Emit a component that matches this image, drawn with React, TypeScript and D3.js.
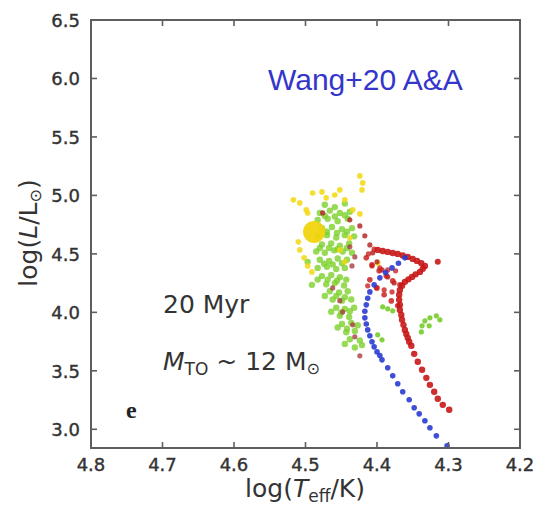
import React from "react";
import * as d3 from "d3";

// Hertzsprung–Russell diagram of a 20 Myr cluster: log Teff vs log L/Lsun.
type Pt = [number, number]; // [logTeff, logL]

const xTicks = [4.8, 4.7, 4.6, 4.5, 4.4, 4.3, 4.2];
const yTicks = [3.0, 3.5, 4.0, 4.5, 5.0, 5.5, 6.0, 6.5];

// Blue sequence (blue-loop models)
const blueTrack: Pt[] = [
  [4.361, 4.466], [4.370, 4.42], [4.379, 4.38], [4.388, 4.34], [4.396, 4.295],
  [4.404, 4.235], [4.41, 4.175], [4.413, 4.12], [4.415, 4.064], [4.417, 4.01],
  [4.417, 3.953], [4.415, 3.90], [4.413, 3.85], [4.410, 3.80], [4.407, 3.748],
  [4.404, 3.705], [4.400, 3.662], [4.396, 3.63], [4.393, 3.594], [4.385, 3.526],
  [4.378, 3.457], [4.371, 3.389], [4.364, 3.321], [4.355, 3.252], [4.348, 3.184],
  [4.341, 3.132], [4.333, 3.073], [4.326, 3.013], [4.317, 2.944], [4.302, 2.859],
];

// Red sequence: main ridge
const redMain: Pt[] = [
  [4.399, 4.534], [4.392, 4.525], [4.385, 4.517], [4.378, 4.508], [4.371, 4.50],
  [4.364, 4.487], [4.357, 4.474], [4.350, 4.457], [4.344, 4.44], [4.338, 4.42],
  [4.333, 4.397], [4.336, 4.372], [4.340, 4.346], [4.346, 4.325], [4.351, 4.303],
  [4.356, 4.282], [4.361, 4.261], [4.365, 4.227], [4.368, 4.192], [4.369, 4.15],
  [4.369, 4.107], [4.368, 4.064], [4.368, 4.021], [4.366, 3.978], [4.365, 3.936],
  [4.363, 3.893], [4.361, 3.85], [4.359, 3.815], [4.357, 3.782], [4.355, 3.748],
  [4.352, 3.714], [4.348, 3.645], [4.343, 3.577], [4.337, 3.509], [4.331, 3.44],
  [4.326, 3.38], [4.320, 3.321], [4.315, 3.261], [4.308, 3.209], [4.299, 3.167],
];

// Red sequence: sparse upper branch
const redUpper: Pt[] = [
  [4.476, 4.85], [4.438, 4.791], [4.424, 4.739], [4.417, 4.654], [4.410, 4.577],
  [4.406, 4.509], [4.400, 4.432], [4.393, 4.363], [4.385, 4.303], [4.376, 4.252],
];

// Red sequence: intermediate bands between the branches
const redBandA: Pt[] = [
  [4.415, 4.466], [4.407, 4.406], [4.397, 4.355], [4.387, 4.312], [4.378, 4.269], [4.368, 4.235],
];
const redBandB: Pt[] = [
  [4.410, 4.278], [4.400, 4.209], [4.390, 4.15], [4.380, 4.098], [4.371, 4.056],
];
const redRungs: Pt[] = [
  [4.407, 4.397], [4.396, 4.38], [4.385, 4.363], [4.374, 4.355],
  [4.413, 4.227], [4.401, 4.21], [4.390, 4.192], [4.379, 4.175],
  [4.412, 4.50], [4.404, 4.54],
];
const redIsolated: Pt[] = [[4.315, 4.432]];

// Dark red stars scattered within the green group
const redSpecks: Pt[] = [
  [4.462, 4.209], [4.448, 4.004], [4.434, 3.893], [4.431, 3.791], [4.424, 3.628],
  [4.438, 4.56], [4.431, 4.474], [4.435, 4.397], [4.452, 4.10],
];

// Green group
const greenCluster: Pt[] = [
  [4.473, 4.92], [4.459, 4.90], [4.445, 4.93],
  [4.480, 4.85], [4.466, 4.87], [4.452, 4.85], [4.438, 4.86],
  [4.473, 4.825], [4.459, 4.82], [4.445, 4.83],
  [4.483, 4.79], [4.469, 4.80], [4.455, 4.78], [4.441, 4.80],
  [4.477, 4.72], [4.463, 4.73], [4.449, 4.71], [4.435, 4.72],
  [4.470, 4.69], [4.456, 4.68], [4.442, 4.69],
  [4.483, 4.65], [4.470, 4.66], [4.457, 4.64], [4.445, 4.66], [4.432, 4.65],
  [4.477, 4.58], [4.464, 4.59], [4.452, 4.57], [4.439, 4.59],
  [4.480, 4.55], [4.467, 4.55], [4.455, 4.54], [4.442, 4.55],
  [4.485, 4.52], [4.473, 4.51], [4.460, 4.53], [4.448, 4.52], [4.435, 4.51],
  [4.480, 4.45], [4.467, 4.44], [4.455, 4.46], [4.442, 4.45],
  [4.474, 4.415], [4.462, 4.41], [4.449, 4.42], [4.497, 4.432],
  [4.483, 4.38], [4.470, 4.39], [4.457, 4.37], [4.445, 4.38],
  [4.477, 4.31], [4.464, 4.32], [4.452, 4.30],
  [4.483, 4.28], [4.469, 4.28], [4.456, 4.27], [4.443, 4.28],
  [4.471, 4.24], [4.459, 4.25], [4.446, 4.23], [4.491, 4.235],
  [4.466, 4.18], [4.453, 4.17], [4.441, 4.18],
  [4.473, 4.14], [4.457, 4.14], [4.445, 4.13],
  [4.462, 4.11], [4.449, 4.10], [4.436, 4.11],
  [4.457, 4.04], [4.445, 4.03], [4.432, 4.04],
  [4.464, 4.005], [4.450, 4.00], [4.438, 4.01],
  [4.452, 3.97], [4.439, 3.96],
  [4.449, 3.90], [4.436, 3.91], [4.427, 3.89],
  [4.455, 3.87], [4.442, 3.86],
  [4.443, 3.83], [4.431, 3.84],
  [4.438, 3.77], [4.424, 3.76],
  [4.445, 3.73], [4.421, 3.72],
  [4.431, 3.70],
];

// Green stars off the main group
const greenRight: Pt[] = [
  [4.338, 3.833], [4.337, 3.885], [4.333, 3.927], [4.326, 3.953], [4.327, 3.885],
  [4.317, 3.97], [4.312, 3.936],
  [4.392, 4.047], [4.385, 4.03], [4.378, 4.013],
  [4.399, 3.808], [4.393, 3.765],
];

// Yellow stars
const yellowPts: Pt[] = [
  [4.517, 4.962], [4.508, 4.936], [4.499, 4.876], [4.490, 5.021], [4.477, 5.03],
  [4.471, 4.979], [4.459, 5.004], [4.452, 5.047], [4.445, 4.962], [4.434, 4.876],
  [4.424, 4.842], [4.424, 5.167], [4.420, 5.107], [4.421, 5.047], [4.497, 4.85],
  [4.508, 4.534], [4.502, 4.466], [4.497, 4.397], [4.491, 4.346], [4.510, 4.603],
  [4.452, 4.534], [4.445, 4.432], [4.399, 4.423], [4.438, 4.637],
];
const yellowBlob: Pt[] = [[4.488, 4.688]];

const W = 538;
const H = 512;
const left = 91, right = 520, top = 20, bottom = 448;

const x = d3.scaleLinear().domain([4.8, 4.2]).range([left, right]);
const y = d3.scaleLinear().domain([2.84, 6.5]).range([bottom, top]);

const FONT = "'DejaVu Sans', sans-serif";
const AXIS = "#5e5e5e";
const TEXT = "#333";

function Dots({ pts, r, fill, opacity = 0.9 }: { pts: Pt[]; r: number; fill: string; opacity?: number }) {
  return (
    <g fill={fill} fillOpacity={opacity}>
      {pts.map((p, i) => (
        <circle key={i} cx={x(p[0])} cy={y(p[1])} r={r} />
      ))}
    </g>
  );
}

export default function App() {
  const tickLen = 6;
  return (
    <svg width={W} height={H} style={{ position: "absolute", left: 0, top: 0, background: "#fff" }}>
      <defs>
        <filter id="soft" x="-10%" y="-10%" width="120%" height="120%">
          <feGaussianBlur stdDeviation="0.6" />
        </filter>
      </defs>

      {/* data */}
      <g filter="url(#soft)">
        <Dots pts={greenCluster} r={3.2} fill="#7cd12a" opacity={0.8} />
        <Dots pts={yellowPts} r={2.8} fill="#f3d812" opacity={0.85} />
        <Dots pts={yellowBlob} r={11} fill="#f1d40c" opacity={0.95} />
        <Dots pts={greenRight} r={2.6} fill="#76cc2a" />
        <Dots pts={redSpecks} r={2.6} fill="#a84040" opacity={0.8} />
        <Dots pts={redUpper} r={2.6} fill="#b52a2a" opacity={0.85} />
        <Dots pts={redBandA} r={2.8} fill="#cc1f1f" opacity={0.85} />
        <Dots pts={redBandB} r={2.8} fill="#cc1f1f" opacity={0.85} />
        <Dots pts={redRungs} r={2.6} fill="#cc1f1f" opacity={0.8} />
        <Dots pts={redMain} r={3.2} fill="#c81414" />
        <Dots pts={redIsolated} r={3} fill="#c81414" />
        <Dots pts={blueTrack} r={2.8} fill="#2a3bd2" />
      </g>

      {/* frame */}
      <rect x={left} y={top} width={right - left} height={bottom - top} fill="none" stroke={AXIS} strokeWidth={2} />

      {/* ticks on all four sides, pointing inward */}
      <g stroke={AXIS} strokeWidth={1.6}>
        {xTicks.map((t) => (
          <g key={"x" + t}>
            <line x1={x(t)} x2={x(t)} y1={bottom} y2={bottom - tickLen} />
            <line x1={x(t)} x2={x(t)} y1={top} y2={top + tickLen} />
          </g>
        ))}
        {yTicks.map((t) => (
          <g key={"y" + t}>
            <line x1={left} x2={left + tickLen} y1={y(t)} y2={y(t)} />
            <line x1={right} x2={right - tickLen} y1={y(t)} y2={y(t)} />
          </g>
        ))}
      </g>

      {/* tick labels */}
      <g fontFamily={FONT} fontSize={18} fill={TEXT} stroke={TEXT} strokeWidth={0.4}>
        {xTicks.map((t) => (
          <text key={"xl" + t} x={x(t)} y={471} textAnchor="middle">
            {d3.format(".1f")(t)}
          </text>
        ))}
        {yTicks.map((t) => (
          <text key={"yl" + t} x={80} y={y(t) + 7} textAnchor="end">
            {d3.format(".1f")(t)}
          </text>
        ))}
      </g>

      {/* axis titles */}
      <text x={305} y={497} textAnchor="middle" fontFamily={FONT} fontSize={25} fill={TEXT}>
        log(<tspan fontStyle="italic">T</tspan>
        <tspan fontSize={17} dy={5}>eff</tspan>
        <tspan dy={-5}>/K)</tspan>
      </text>
      <text
        transform={`translate(37,${233}) rotate(-90)`}
        textAnchor="middle"
        fontFamily={FONT}
        fontSize={25}
        fill={TEXT}
      >
        log(<tspan fontStyle="italic">L</tspan>/L
        <tspan fontSize={16} dy={4}>⊙</tspan>
        <tspan dy={-4}>)</tspan>
      </text>

      {/* annotations */}
      <text x={268} y={90} fontFamily="'Liberation Sans', Arial, sans-serif" fontSize={30} fill="#3535cc">
        Wang+20 A&amp;A
      </text>
      <text x={163} y={313} fontFamily={FONT} fontSize={25} fill={TEXT}>
        20 Myr
      </text>
      <text x={163} y={370} fontFamily={FONT} fontSize={25} fill={TEXT}>
        <tspan fontStyle="italic">M</tspan>
        <tspan fontSize={17} dy={5}>TO</tspan>
        <tspan dy={-5}> ~ 12 M</tspan>
        <tspan fontSize={16} dy={4}>⊙</tspan>
      </text>
      <text x={126} y={418} fontFamily="'Liberation Serif', serif" fontWeight="bold" fontSize={24} fill="#222">
        e
      </text>
    </svg>
  );
}
